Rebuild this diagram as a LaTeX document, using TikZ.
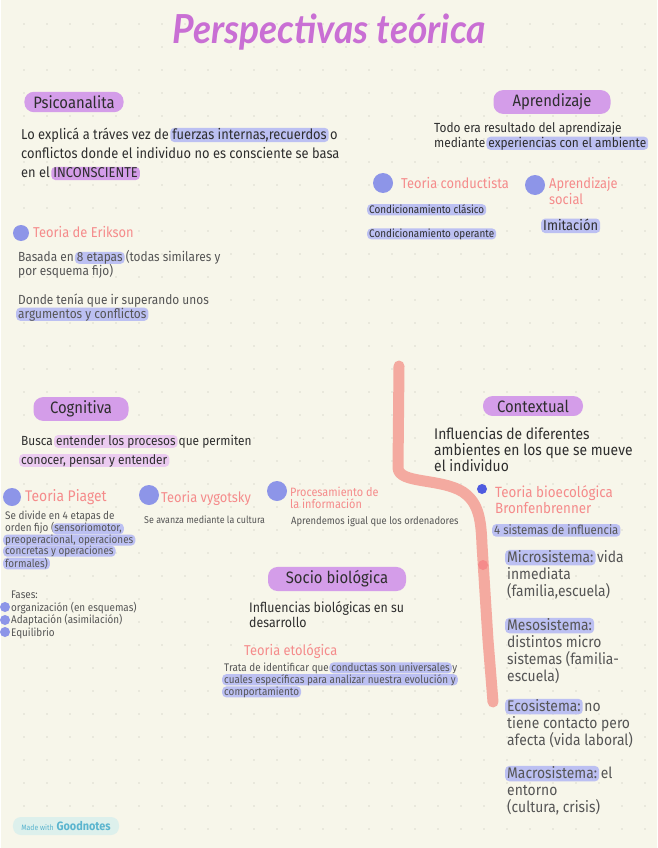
\documentclass[tikz,border=0pt]{standalone}
\usepackage{fontspec}
\setmainfont{Fira Sans}[FakeStretch=0.9, Scale=1.1]
\newfontfamily\titlefont{Lato}[FakeStretch=0.93]
\usetikzlibrary{positioning}
\definecolor{paper}{HTML}{F7F6EA}
\definecolor{gridgray}{HTML}{DCDBCE}
\definecolor{ink}{HTML}{2E2E2E}
\definecolor{inkgray}{HTML}{555555}
\definecolor{titlepurple}{HTML}{C96FD4}
\definecolor{pillpurple}{HTML}{D49DE9}
\definecolor{hlblue}{HTML}{BCC0F2}
\definecolor{hlpink}{HTML}{EBCBF0}
\definecolor{dotblue}{HTML}{8D95E8}
\definecolor{darkblue}{HTML}{4F5BE0}
\definecolor{salmon}{HTML}{F58B8B}
\definecolor{pinkbar}{HTML}{F4AAA0}
\definecolor{badge}{HTML}{DDF0EC}
\definecolor{badgetext}{HTML}{5BB5CF}
\newcommand{\fs}[2]{\fontsize{#1}{#2}\selectfont}
\tikzset{hlbox/.style={overlay, anchor=center, inner xsep=2pt, inner ysep=0pt,
                       outer sep=0pt, rounded corners=4pt}}
\newcommand{\hlmark}[2]{\tikz[baseline=(hwtext.base)]{%
  \node[hlbox, fill=#1] (hwfill) {\vphantom{Ay}\phantom{#2}};
  \node[anchor=center, inner sep=0pt, outer sep=0pt] (hwtext) at (hwfill.center) {\vphantom{Ay}#2};}}
\newcommand{\hlb}[1]{\hlmark{hlblue}{#1}}
\newcommand{\hlp}[1]{\hlmark{hlpink}{#1}}
\newcommand{\hlv}[1]{\hlmark{pillpurple}{#1}}
\begin{document}
\begin{tikzpicture}[x=1pt, y=-1pt,
    pill/.style={fill=pillpurple, rounded corners=9.5pt, minimum height=19pt,
                 inner xsep=9pt, font=\fs{15}{16}, text=ink},
    note/.style={anchor=base west, align=left, text=ink, inner sep=0pt},
    theory/.style={anchor=base west, align=left, text=salmon, inner sep=0pt, font=\fs{13}{16}},
    dotmark/.style={circle, fill=dotblue, inner sep=0pt, minimum size=#1}
  ]
    % paper and dot grid (multi-line notes are placed by their last baseline)
    \fill[paper] (0,0) rectangle (656,848);
    \foreach \gx in {23,46,...,644}
      \foreach \gy in {24,47,...,846}
        \fill[gridgray] (\gx,\gy) circle (0.9);

    \node[font=\titlefont\bfseries\itshape\fs{40}{40}, text=titlepurple] (title) at (328,32)
      {Perspectivas teórica};

    % Psicoanalista
    \node[pill, minimum width=97pt] (psico) at (73,102) {Psicoanalita};
    \node[note, font=\fs{13}{19}] (psicotext) at (20,177)
      {Lo explicá a tráves vez de \hlb{fuerzas internas,recuerdos} o\\
       conflictos donde el individuo no es consciente se basa\\
       en el \hlv{INCONSCIENTE}};
    \node[dotmark=16pt] (eriksondot) at (20,233) {};
    \node[theory] (erikson) at (32,237) {Teoria de Erikson};
    \node[note, text=inkgray, font=\fs{12}{14}] (eriksontext) at (17,275)
      {Basada en \hlb{8 etapas} (todas similares y\\por esquema fijo)};
    \node[note, text=inkgray, font=\fs{12}{14}] (eriksonmore) at (17,318)
      {Donde tenía que ir superando unos\\\hlb{argumentos y conflictos}};

    % Aprendizaje
    \node[pill, minimum width=117pt] (aprend) at (551,102) {Aprendizaje};
    \node[note, font=\fs{12}{15}] (aprendtext) at (433,147)
      {Todo era resultado del aprendizaje\\mediante \hlb{experiencias con el ambiente}};
    \node[dotmark=20pt] (conddot) at (382,183) {};
    \node[theory] (conductista) at (400,188) {Teoria conductista};
    \node[dotmark=20pt] (socialdot) at (534,185) {};
    \node[theory] (social) at (548,204) {Aprendizaje\\social};
    \node[note, font=\fs{10}{12}] (clasico) at (368,213) {\hlb{Condicionamiento clásico}};
    \node[note, font=\fs{10}{12}] (operante) at (368,237) {\hlb{Condicionamiento operante}};
    \node[note, font=\fs{13}{15}] (imitacion) at (542,230) {\hlb{Imitación}};

    % Cognitiva
    \node[pill, minimum width=95pt] (cogni) at (80,409) {Cognitiva};
    \node[note, font=\fs{12}{19}] (cognitext) at (20,464)
      {Busca \hlp{entender los procesos} que permiten\\\hlp{conocer, pensar y entender}};
    \node[dotmark=18pt] (piagetdot) at (11,497) {};
    \node[theory, font=\fs{14}{16}] (piaget) at (24,501) {Teoria Piaget};
    \node[dotmark=20pt] (vygodot) at (148,495) {};
    \node[theory] (vygotsky) at (160,502) {Teoria vygotsky};
    \node[dotmark=20pt] (procdot) at (276,491) {};
    \node[theory, font=\fs{11}{12}] (proces) at (289,508) {Procesamiento de\\la información};
    \node[note, text=inkgray, font=\fs{10}{11.2}] (piagettext) at (4,567)
      {Se divide en 4 etapas de\\orden fijo (\hlb{sensoriomotor,}\\\hlb{preoperacional, operaciones}\\
       \hlb{concretas y operaciones}\\\hlb{formales)}};
    \node[note, text=inkgray, font=\fs{9}{11}] (vygotext) at (143,523) {Se avanza mediante la cultura};
    \node[note, text=inkgray, font=\fs{9.5}{11}] (procestext) at (290,524) {Aprendemos igual que los ordenadores};
    \node[note, text=inkgray, font=\fs{10}{12.5}] (fases) at (10,636)
      {Fases:\\organización (en esquemas)\\Adaptación (asimilación)\\Equilibrio};
    \foreach \fy [count=\fn] in {607,620,632}
      \node[dotmark=10pt] (fasedot\fn) at (4,\fy) {};

    % Socio biologica
    \node[pill, minimum width=138pt] (socio) at (336,579) {Socio biológica};
    \node[note, font=\fs{12.5}{15}] (sociotext) at (248,627)
      {Influencias biológicas en su\\desarrollo};
    \node[theory] (etologica) at (243,655) {Teoria etológica};
    \node[note, text=inkgray, font=\fs{10}{12}] (etotext) at (223,695)
      {Trata de identificar que \hlb{conductas son universales} y\\
       \hlb{cuales específicas para analizar nuestra evolución y}\\\hlb{comportamiento}};

    % Contextual
    \draw[pinkbar, line width=11pt, line cap=round, line join=round]
      (398,366) -- (397,468) .. controls (398,484) and (440,478) .. (462,492)
      .. controls (478,503) and (480,520) .. (481,545) -- (487,640) -- (492,702);
    \node[circle, fill=salmon, inner sep=0pt, minimum size=10pt] (bardot) at (482,565) {};
    \node[pill, minimum width=100pt] (context) at (532,406) {Contextual};
    \node[note, font=\fs{14}{16}] (contexttext) at (433,471)
      {Influencias de diferentes\\ambientes en los que se mueve\\el individuo};
    \node[dotmark=10pt, fill=darkblue] (bronfdot) at (481,489) {};
    \node[theory, font=\fs{13.5}{16}] (bronf) at (494,513) {Teoria bioecológica\\Bronfenbrenner};
    \node[note, text=inkgray, font=\fs{11.5}{14}] (sistemas) at (493,534) {\hlb{4 sistemas de influencia}};
    \node[note, text=inkgray, font=\fs{14}{17}] (micro) at (506,596)
      {\hlb{Microsistema:} vida\\inmediata\\(familia,escuela)};
    \node[note, text=inkgray, font=\fs{14}{17}] (meso) at (506,681)
      {\hlb{Mesosistema:}\\distintos micro\\sistemas (familia-\\escuela)};
    \node[note, text=inkgray, font=\fs{14}{17}] (eco) at (506,745)
      {\hlb{Ecosistema:} no\\tiene contacto pero\\afecta (vida laboral)};
    \node[note, text=inkgray, font=\fs{14}{17}] (macro) at (506,812)
      {\hlb{Macrosistema:} el\\entorno\\(cultura, crisis)};

    % badge
    \node[fill=badge, rounded corners=8pt, minimum width=106pt, minimum height=18pt,
          text=badgetext, font=\fs{11}{12}] (badge) at (65,826)
      {{\fs{7}{8}Made with} \textbf{Goodnotes}};
\end{tikzpicture}
\end{document}
